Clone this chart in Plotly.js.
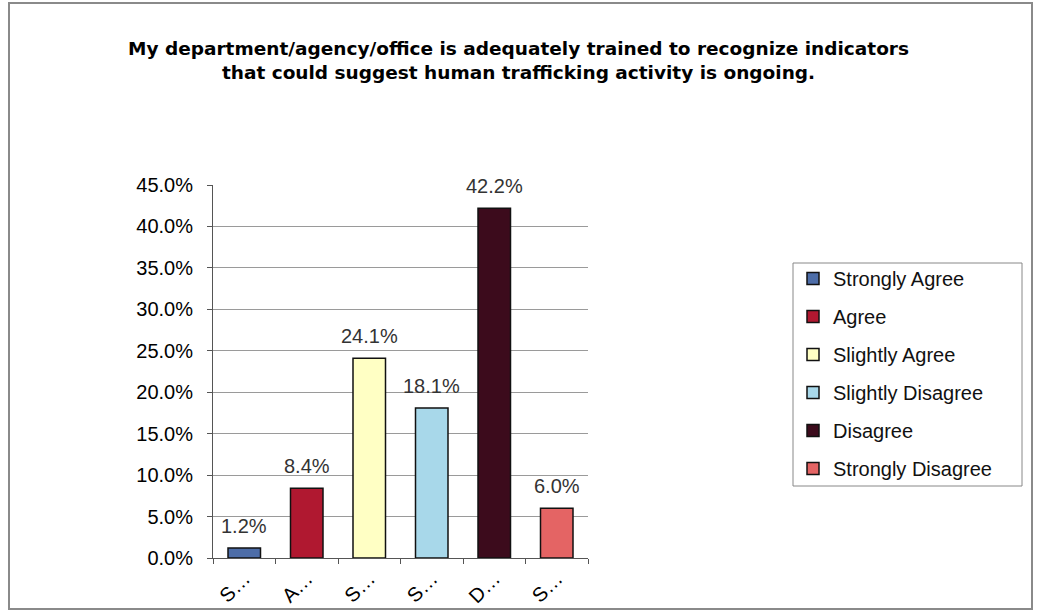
<!DOCTYPE html>
<html>
<head>
<meta charset="utf-8">
<script src="https://cdn.plot.ly/plotly-3.0.1.min.js"></script>
<style>
html,body{margin:0;padding:0;background:#fff;}
#chart{width:1037px;height:615px;}
</style>
</head>
<body>
<div id="chart"></div>
<script>
// Data
const categories = ["Strongly Agree", "Agree", "Slightly Agree", "Slightly Disagree", "Disagree", "Strongly Disagree"];
const tickLabels = ["S…", "A…", "S…", "S…", "D…", "S…"];
const values = [1.2, 8.4, 24.1, 18.1, 42.2, 6.0];
const valueLabels = ["1.2%", "8.4%", "24.1%", "18.1%", "42.2%", "6.0%"];
const barColors = ["#4d6da8", "#b01830", "#ffffc4", "#a8d8ea", "#3c0b1c", "#e46464"];

const FONT = "Liberation Sans, Arial, sans-serif";

const traces = categories.map((c, i) => ({
  type: "bar",
  name: c,
  legendgroup: "g" + i,
  x: [c],
  y: [values[i]],
  width: 0.52,
  marker: {color: barColors[i], line: {color: "#111", width: 1.5}},
  hoverinfo: "name+y"
}));

const annotations = categories.map((c, i) => ({
  x: c, y: values[i], xref: "x", yref: "y",
  text: valueLabels[i],
  showarrow: false,
  yanchor: "bottom",
  yshift: 9,
  font: {family: FONT, size: 20, color: "#333"}
}));

const L = 213, R = 588, T = 185, B = 558;
const pw = R - L, ph = B - T;
const px = v => (v - L) / pw;
const py = v => (B - v) / ph;

const layout = {
  width: 1037, height: 615,
  margin: {l: L, r: 1037 - R, t: T, b: 615 - B, pad: 0},
  paper_bgcolor: "#fff",
  plot_bgcolor: "#fff",
  barmode: "overlay",
  font: {family: FONT, size: 20, color: "#111"},
  title: {
    text: "<b>My department/agency/office is adequately trained to recognize indicators<br>that could suggest human trafficking activity is ongoing.</b>",
    font: {family: "DejaVu Sans, sans-serif", size: 18.5, color: "#000"},
    x: 0.5, xref: "container", xanchor: "center",
    y: 1 - 55 / 615, yref: "container", yanchor: "middle"
  },
  xaxis: {
    type: "category",
    categoryorder: "array",
    categoryarray: categories,
    tickvals: categories,
    ticktext: tickLabels,
    tickangle: -45,
    ticks: "outside",
    tickson: "boundaries",
    ticklen: 5,
    tickcolor: "#555",
    showline: true,
    linecolor: "#555",
    linewidth: 1,
    showgrid: false,
    tickfont: {family: FONT, size: 20, color: "#000"},
    fixedrange: true
  },
  yaxis: {
    range: [0, 45],
    dtick: 5,
    ticksuffix: "%",
    tickformat: ".1f",
    ticks: "outside",
    ticklen: 5,
    tickcolor: "#555",
    ticklabelstandoff: 10,
    showline: true,
    linecolor: "#555",
    linewidth: 1,
    showgrid: true,
    gridcolor: "#9a9a9a",
    gridwidth: 1,
    zeroline: false,
    tickfont: {family: FONT, size: 20, color: "#000"},
    fixedrange: true
  },
  annotations: annotations,
  showlegend: true,
  legend: {
    x: px(793), xanchor: "left",
    y: py(259), yanchor: "top",
    xref: "paper", yref: "paper",
    borderwidth: 0,
    bgcolor: "rgba(0,0,0,0)",
    traceorder: "grouped",
    tracegroupgap: 9,
    font: {family: FONT, size: 20, color: "#111"},
    itemwidth: 30
  },
  shapes: [{
    type: "rect", xref: "paper", yref: "paper",
    x0: px(9), x1: px(1032), y0: py(609), y1: py(3),
    line: {color: "#8a8a8a", width: 2},
    fillcolor: "rgba(0,0,0,0)",
    layer: "below"
  }, {
    type: "rect", xref: "paper", yref: "paper",
    x0: px(793), x1: px(1022), y0: py(486), y1: py(263),
    line: {color: "#888", width: 1},
    fillcolor: "rgba(0,0,0,0)",
    layer: "below"
  }]
};

Plotly.newPlot("chart", traces, layout, {displayModeBar: false, staticPlot: true});
</script>
</body>
</html>
